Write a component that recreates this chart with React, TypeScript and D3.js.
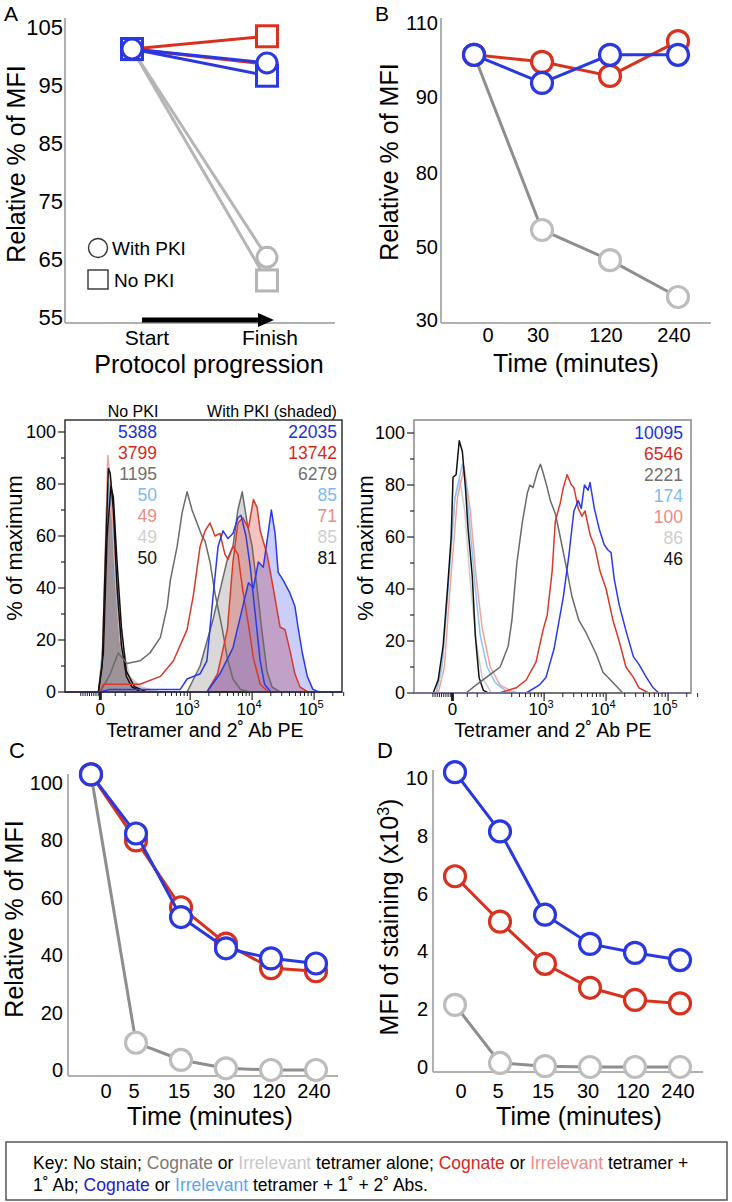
import React from 'react';
import * as d3 from 'd3';

const FONT = "'Liberation Sans', Arial, Helvetica, sans-serif";
const RED = '#d8321f';
const BLUE = '#2a38e2';
const A_GRAY = '#b5b5b5';
const GRAY_LINE = '#8e8e8e';
const GRAY_MARK = '#bdbdbd';
const AXIS = '#b0b0b0';

// ---------- Panel A ----------
const aStages = ['Start', 'Finish'];
const aRedWithPKI = [101.2, 98.6];
const aRedNoPKI = [101.2, 103.4];
const aBlueWithPKI = [101.2, 98.8];
const aBlueNoPKI = [101.2, 96.6];
const aGrayWithPKI = [101.2, 65.3];
const aGrayNoPKI = [101.2, 61.3];
const aTicks = [105, 95, 85, 75, 65, 55];

// ---------- Panel B ----------
const bTimes = ['0', '30', '120', '240'];
const bRed = [101.4, 99.5, 95.7, 105.1];
const bBlue = [101.4, 93.8, 101.4, 101.4];
const bGray = [101.4, 56.9, 46.4, 36.3];
const bTicks = [110, 90, 80, 50, 30];

// ---------- Panels C & D ----------
const cdTimes = ['0', '5', '15', '30', '120', '240'];
const cRed = [103, 80, 56.7, 44, 35.5, 34.4];
const cBlue = [103, 82.4, 53.3, 42.4, 38.9, 37.1];
const cGray = [103, 9.5, 3.5, 0.6, 0, 0];
const cTicks = [0, 20, 40, 60, 80, 100];
const dRed = [6.6, 5.03, 3.57, 2.74, 2.32, 2.2];
const dBlue = [10.2, 8.15, 5.27, 4.26, 3.95, 3.7];
const dGray = [2.15, 0.14, 0.03, 0, 0, 0];
const dTicks = [0, 2, 4, 6, 8, 10];

// ---------- Histograms (x in display decades, y in % of max) ----------
const hlBlackNo = [[1.52,0],[1.58,10],[1.63,50],[1.68,86],[1.71,84],[1.76,70],[1.82,40],[1.89,18],[1.97,6],[2.06,2],[2.2,0]];
const hlPinkNo = [[1.52,0],[1.58,12],[1.63,55],[1.67,91],[1.72,80],[1.79,50],[1.87,20],[1.97,6],[2.11,1],[2.27,0]];
const hlLightBlueNo = [[1.52,0],[1.6,20],[1.65,70],[1.68,80],[1.73,75],[1.79,45],[1.87,20],[1.98,6],[2.11,2],[2.35,0]];
const hlLightGrayNo = [[1.52,0],[1.6,15],[1.65,60],[1.69,78],[1.74,72],[1.8,42],[1.88,18],[2.0,6],[2.2,2],[2.4,0]];
const hlGrayNo = [[1.55,0],[1.71,7],[1.84,15],[1.98,11],[2.19,12],[2.35,15],[2.52,21],[2.63,33],[2.68,43],[2.79,56],[2.87,69],[2.95,77],[3.03,70],[3.11,65],[3.19,60],[3.24,58],[3.32,50],[3.4,38],[3.52,24],[3.6,13],[3.69,5],[3.81,1],[3.97,0]];
const hlRedNo = [[1.55,0],[1.6,3],[1.8,3],[2.19,3],[2.52,6],[2.73,12],[2.95,24],[3.05,37],[3.16,56],[3.24,62],[3.32,65],[3.4,60],[3.48,61],[3.56,53],[3.61,51],[3.69,56],[3.77,53],[3.85,39],[3.94,26],[4.02,13],[4.13,3],[4.26,0]];
const hlBlueNo = [[1.55,0],[1.7,1],[2.84,1],[2.95,5],[3.16,7],[3.27,12],[3.37,37],[3.45,56],[3.53,62],[3.61,59],[3.69,61],[3.77,67],[3.82,68],[3.9,60],[3.97,48],[4.05,30],[4.13,12],[4.2,3],[4.3,0]];
const hlGrayPKI = [[2.95,0],[3.16,10],[3.37,28],[3.48,39],[3.6,51],[3.69,56],[3.77,70],[3.84,77],[3.92,65],[4.0,56],[4.08,40],[4.16,23],[4.24,8],[4.32,2],[4.45,0]];
const hlRedPKI = [[3.27,0],[3.44,7],[3.6,24],[3.69,50],[3.77,65],[3.85,67],[3.94,63],[4.02,74],[4.08,71],[4.13,62],[4.24,53],[4.34,40],[4.45,25],[4.53,24],[4.61,16],[4.69,7],[4.77,2],[4.9,0]];
const hlBluePKI = [[3.27,0],[3.48,7],[3.69,17],[3.85,33],[3.94,42],[4.02,40],[4.1,50],[4.18,48],[4.24,58],[4.31,70],[4.37,61],[4.42,46],[4.5,43],[4.61,38],[4.69,33],[4.74,25],[4.81,15],[4.89,6],[4.98,1],[5.08,0]];
const hlBlackPKI = [[1.52,0],[1.6,15],[1.66,60],[1.72,79],[1.76,75],[1.82,50],[1.89,25],[1.97,8],[2.1,2],[2.3,0]];
const hlLightBluePKI = [[1.52,0],[1.6,18],[1.66,65],[1.7,80],[1.75,70],[1.82,40],[1.9,15],[2.0,5],[2.2,1],[2.4,0]];
const hlPinkPKI = [[1.52,0],[1.6,15],[1.66,60],[1.7,72],[1.76,65],[1.83,38],[1.9,15],[2.0,5],[2.2,1],[2.4,0]];
const hlLightGrayPKI = [[1.52,0],[1.6,18],[1.66,65],[1.71,82],[1.76,74],[1.83,42],[1.91,18],[2.02,6],[2.2,2],[2.5,0]];

const hrBlack = [[1.21,0],[1.29,5],[1.37,18],[1.45,43],[1.5,60],[1.53,83],[1.58,84],[1.63,97],[1.68,93],[1.73,79],[1.77,64],[1.84,45],[1.89,22],[1.95,6],[2.02,1],[2.1,0]];
const hrLightBlue = [[1.26,0],[1.35,10],[1.45,40],[1.56,75],[1.68,88],[1.74,80],[1.81,62],[1.89,40],[1.97,22],[2.08,10],[2.21,4],[2.37,1],[2.61,0]];
const hrPink = [[1.29,0],[1.39,10],[1.48,40],[1.6,75],[1.71,87],[1.81,70],[1.9,45],[2.0,25],[2.13,10],[2.29,3],[2.53,0]];
const hrLightGray = [[1.26,0],[1.36,12],[1.46,45],[1.56,75],[1.64,82],[1.72,70],[1.8,45],[1.9,20],[2.0,6],[2.15,0]];
const hrGray = [[1.74,0],[1.9,3],[2.18,8],[2.29,10],[2.42,18],[2.48,28],[2.56,50],[2.65,66],[2.73,77],[2.77,80],[2.82,79],[2.89,85],[2.94,88],[2.98,85],[3.05,79],[3.1,74],[3.18,69],[3.26,60],[3.37,47],[3.45,37],[3.56,28],[3.68,23],[3.84,15],[3.95,8],[4.11,4],[4.27,0]];
const hrRed = [[2.27,0],[2.55,2],[2.71,5],[2.87,12],[2.98,24],[3.05,30],[3.13,47],[3.18,66],[3.26,73],[3.31,79],[3.37,84],[3.44,80],[3.48,79],[3.55,71],[3.61,68],[3.66,70],[3.74,61],[3.82,56],[3.9,47],[4.0,40],[4.11,28],[4.21,20],[4.32,10],[4.44,6],[4.53,2],[4.69,0]];
const hrBlue = [[2.71,0],[2.92,3],[3.03,6],[3.16,17],[3.31,37],[3.4,53],[3.48,70],[3.55,74],[3.6,71],[3.65,80],[3.71,78],[3.74,81],[3.81,71],[3.89,63],[3.97,57],[4.03,55],[4.08,54],[4.13,44],[4.21,34],[4.32,24],[4.44,14],[4.53,11],[4.65,6],[4.76,2],[4.85,0]];

const hlNoPKIMFI = ['5388', '3799', '1195', '50', '49', '49', '50'];
const hlPKIMFI = ['22035', '13742', '6279', '85', '71', '85', '81'];
const hrMFI = ['10095', '6546', '2221', '174', '100', '86', '46'];
const mfiColors = ['#2230dc', '#d4291c', '#707070', '#7fbaf2', '#ec8b86', '#cfcfcf', '#111111'];

const H_BLUE = '#2b3ae8';
const H_RED = '#d9392a';
const H_GRAY = '#6a6a6a';
const H_LBLUE = '#8ec5f5';
const H_PINK = '#f2a39c';
const H_LGRAY = '#cccccc';
const H_BLACK = '#111111';

type Pt = number[];

function Marker({ x, y, shape, color, size, sw }: any) {
  if (shape === 'square')
    return <rect x={x - size / 2} y={y - size / 2} width={size} height={size} fill="#fff" stroke={color} strokeWidth={sw} />;
  return <circle cx={x} cy={y} r={size / 2} fill="#fff" stroke={color} strokeWidth={sw} />;
}

function PanelA() {
  const y = d3.scaleLinear().domain([55, 105]).range([317, 27]);
  const x = d3.scalePoint<string>().domain(aStages).range([132, 267]);
  const xl = d3.scalePoint<string>().domain(aStages).range([147, 270]);
  const line = d3.line<number>().x((_, i) => x(aStages[i])!).y((d) => y(d));
  const series = [
    { v: aGrayNoPKI, c: A_GRAY, s: 'square' },
    { v: aGrayWithPKI, c: A_GRAY, s: 'circle' },
    { v: aRedNoPKI, c: RED, s: 'square' },
    { v: aRedWithPKI, c: RED, s: 'circle' },
    { v: aBlueNoPKI, c: BLUE, s: 'square' },
    { v: aBlueWithPKI, c: BLUE, s: 'circle' },
  ];
  const ax0 = xl('Start')! - 5;
  const ax1 = xl('Finish')! + 4;
  return (
    <g>
      <text x={4} y={21} fontSize={21}>A</text>
      <line x1={65} x2={65} y1={18} y2={323} stroke={AXIS} strokeWidth={2} />
      <line x1={65} x2={335} y1={323} y2={323} stroke={AXIS} strokeWidth={2} />
      {aTicks.map((t) => (
        <text key={t} x={63} y={y(t) + 8} fontSize={22} textAnchor="end">{t}</text>
      ))}
      <text transform={`translate(25,164) rotate(-90)`} fontSize={25} textAnchor="middle">Relative % of MFI</text>
      {series.map((s, i) => (
        <path key={'l' + i} d={line(s.v)!} fill="none" stroke={s.c} strokeWidth={3} />
      ))}
      {series.map((s, i) =>
        s.v.map((v, j) => (
          <Marker key={'m' + i + j} x={x(aStages[j])!} y={y(v)} shape={s.s} color={s.c} size={s.s === 'square' ? 21 : 20} sw={3} />
        ))
      )}
      <circle cx={98} cy={248} r={9.5} fill="#fff" stroke="#333" strokeWidth={1.4} />
      <text x={112} y={255} fontSize={19}>With PKI</text>
      <rect x={88} y={270} width={20} height={19} fill="#fff" stroke="#333" strokeWidth={1.4} />
      <text x={114} y={287} fontSize={19}>No PKI</text>
      <line x1={ax0} x2={ax1 - 14} y1={320} y2={320} stroke="#000" strokeWidth={5} />
      <path d={`M${ax1 - 16},313 L${ax1},320 L${ax1 - 16},327 Z`} fill="#000" />
      {aStages.map((s) => (
        <text key={s} x={xl(s)} y={345} fontSize={21} textAnchor="middle">{s}</text>
      ))}
      <text x={209} y={373} fontSize={25} textAnchor="middle">Protocol progression</text>
    </g>
  );
}

function PanelB() {
  const y = d3.scaleLinear().domain([30, 50, 80, 90, 110]).range([320, 247, 173, 97, 23]);
  const x = d3.scalePoint<string>().domain(bTimes).range([474, 678]);
  const line = d3.line<number>().x((_, i) => x(bTimes[i])!).y((d) => y(d));
  const series = [
    { v: bGray, c: GRAY_LINE, m: GRAY_MARK },
    { v: bRed, c: RED, m: RED },
    { v: bBlue, c: BLUE, m: BLUE },
  ];
  return (
    <g>
      <text x={375} y={21} fontSize={21}>B</text>
      <line x1={441} x2={441} y1={18} y2={323} stroke={AXIS} strokeWidth={2} />
      <line x1={441} x2={711} y1={323} y2={323} stroke={AXIS} strokeWidth={2} />
      {bTicks.map((t) => (
        <text key={t} x={438} y={y(t) + 7} fontSize={20} textAnchor="end">{t}</text>
      ))}
      <text transform={`translate(398,162) rotate(-90)`} fontSize={25} textAnchor="middle">Relative % of MFI</text>
      {series.map((s, i) => (
        <g key={i}>
          <path d={line(s.v)!} fill="none" stroke={s.c} strokeWidth={3} />
          {s.v.map((v, j) => (
            <Marker key={j} x={x(bTimes[j])!} y={y(v)} shape="circle" color={s.m} size={21} sw={3.2} />
          ))}
        </g>
      ))}
      {bTimes.map((t, i) => (
        <text key={t} x={x(t)! + (i === 0 ? 14 : -4)} y={342} fontSize={20} textAnchor="middle">{t}</text>
      ))}
      <text x={576} y={372} fontSize={25} textAnchor="middle">Time (minutes)</text>
    </g>
  );
}

function TimePanel({ letter, lx, axisX, axisY, axisTop, xr, yDom, yRange, ticks, red, blue, gray, title, titleX, labelShift0, tickRight }: any) {
  const y = d3.scaleLinear().domain(yDom).range(yRange);
  const x = d3.scalePoint<string>().domain(cdTimes).range(xr);
  const line = d3.line<number>().x((_, i) => x(cdTimes[i])!).y((d) => y(d));
  const series = [
    { v: gray, c: GRAY_LINE, m: GRAY_MARK },
    { v: red, c: RED, m: RED },
    { v: blue, c: BLUE, m: BLUE },
  ];
  return (
    <g>
      <text x={lx} y={758} fontSize={22}>{letter}</text>
      <line x1={axisX} x2={axisX} y1={axisTop} y2={axisY} stroke={AXIS} strokeWidth={2} />
      <line x1={axisX} x2={axisX + 270} y1={axisY} y2={axisY} stroke={AXIS} strokeWidth={2} />
      {ticks.map((t: number) => (
        <text key={t} x={tickRight} y={y(t) + 7} fontSize={20} textAnchor="end">{t}</text>
      ))}
      {title}
      {series.map((s, i) => (
        <g key={i}>
          <path d={line(s.v)!} fill="none" stroke={s.c} strokeWidth={3} />
          {s.v.map((v: number, j: number) => (
            <Marker key={j} x={x(cdTimes[j])!} y={y(v)} shape="circle" color={s.m} size={21} sw={3.2} />
          ))}
        </g>
      ))}
      {cdTimes.map((t, i) => (
        <text key={t} x={x(t)! + (i === 0 ? labelShift0 : -2)} y={1098} fontSize={20} textAnchor="middle">{t}</text>
      ))}
      <text x={titleX} y={1125} fontSize={25} textAnchor="middle">Time (minutes)</text>
    </g>
  );
}

function Histogram({ xr, dom, zeroD, yb, yt, boxTop, boxStroke, fills, lines, yTitleX, xTitleX, children }: any) {
  const x = d3.scaleLinear().domain(dom).range(xr);
  const y = d3.scaleLinear().domain([0, 100]).range([yb, yt]);
  const ext = (d: Pt[]) => [[dom[0], 0], ...d, [dom[1], 0]] as Pt[];
  const line = d3.line<Pt>().x((d) => x(d[0])).y((d) => y(d[1]));
  const area = d3.area<Pt>().x((d) => x(d[0])).y0(yb).y1((d) => y(d[1]));
  const yt10 = d3.range(0, 101, 10);
  const minor: number[] = [];
  for (let k = 1; k <= 9; k++) minor.push(zeroD - 0.035 * k);
  minor.push(zeroD + 0.24, zeroD + 0.4);
  for (let k = 3; k <= 9; k++) minor.push(2 + Math.log10(k));
  for (let k = 2; k <= 9; k++) minor.push(3 + Math.log10(k), 4 + Math.log10(k));
  minor.push(5 + Math.log10(2), 5 + Math.log10(3));
  const major = [{ d: zeroD, e: null }, { d: 3, e: '3' }, { d: 4, e: '4' }, { d: 5, e: '5' }];
  return (
    <g>
      <defs>
        <clipPath id={'clip' + xr[0]}>
          <rect x={xr[0]} y={boxTop} width={xr[1] - xr[0]} height={yb - boxTop + 1} />
        </clipPath>
      </defs>
      <g clipPath={`url(#clip${xr[0]})`}>
        {fills.map((f: any, i: number) => (
          <path key={'f' + i} d={area(ext(f.d))!} fill={f.c} fillOpacity={f.o} stroke="none" />
        ))}
        {lines.map((f: any, i: number) => (
          <path key={'l' + i} d={line(ext(f.d))!} fill="none" stroke={f.c} strokeWidth={1.5} strokeLinejoin="round" />
        ))}
      </g>
      <rect x={xr[0]} y={boxTop} width={xr[1] - xr[0]} height={yb - boxTop} fill="none" stroke={boxStroke} strokeWidth={1.5} />
      {yt10.map((v) => (
        <line key={v} x1={xr[0] - (v % 20 === 0 ? 7 : 4)} x2={xr[0]} y1={y(v)} y2={y(v)} stroke="#222" strokeWidth={1.2} />
      ))}
      {yt10.filter((v) => v % 20 === 0).map((v) => (
        <text key={v} x={xr[0] - 9} y={y(v) + 6} fontSize={18} textAnchor="end">{v}</text>
      ))}
      {minor.map((d, i) => (
        <line key={i} x1={x(d)} x2={x(d)} y1={yb} y2={yb + 4} stroke="#222" strokeWidth={1} />
      ))}
      {major.map((m) => (
        <line key={m.d} x1={x(m.d)} x2={x(m.d)} y1={yb} y2={yb + 8} stroke="#222" strokeWidth={m.e ? 1.2 : 3} />
      ))}
      {major.map((m) => (
        <text key={'t' + m.d} x={x(m.d) + (m.e ? -3 : 0)} y={715} fontSize={17} textAnchor="middle">
          {m.e ? (<>10<tspan dy={-7} fontSize={11}>{m.e}</tspan></>) : '0'}
        </text>
      ))}
      <text transform={`translate(${yTitleX},548) rotate(-90)`} fontSize={22} textAnchor="middle">% of maximum</text>
      <text x={xTitleX} y={737} fontSize={19.5} textAnchor="middle">Tetramer and 2˚ Ab PE</text>
      {children}
    </g>
  );
}

function MfiColumn({ xRight, y0, values }: any) {
  return (
    <g>
      {values.map((v: string, i: number) => (
        <text key={i} x={xRight} y={y0 + i * 21} fontSize={17.5} textAnchor="end" fill={mfiColors[i]}>{v}</text>
      ))}
    </g>
  );
}

function Key() {
  return (
    <g fontSize={17.5}>
      <rect x={6} y={1142} width={721} height={58} fill="#fff" stroke="#555" strokeWidth={1.5} />
      <text x={33} y={1169}>
        <tspan>Key: No stain; </tspan>
        <tspan fill="#7a7a7a">Cognate</tspan>
        <tspan> or </tspan>
        <tspan fill="#c8c8c8">Irrelevant</tspan>
        <tspan> tetramer alone; </tspan>
        <tspan fill="#d4291c">Cognate</tspan>
        <tspan> or </tspan>
        <tspan fill="#ef8c86">Irrelevant</tspan>
        <tspan> tetramer +</tspan>
      </text>
      <text x={33} y={1191}>
        <tspan>1˚ Ab; </tspan>
        <tspan fill="#2020d0">Cognate</tspan>
        <tspan> or </tspan>
        <tspan fill="#5aa6f2">Irrelevant</tspan>
        <tspan> tetramer + 1˚ + 2˚ Abs.</tspan>
      </text>
    </g>
  );
}

export default function App() {
  const leftFills = [
    { d: hlGrayPKI, c: '#9a9a9a', o: 0.38 },
    { d: hlRedPKI, c: H_RED, o: 0.3 },
    { d: hlBluePKI, c: H_BLUE, o: 0.25 },
    { d: hlLightGrayPKI, c: '#aaaaaa', o: 0.35 },
    { d: hlLightBluePKI, c: H_LBLUE, o: 0.3 },
    { d: hlPinkPKI, c: H_PINK, o: 0.3 },
    { d: hlBlackPKI, c: '#333333', o: 0.35 },
  ];
  const leftLines = [
    { d: hlLightGrayNo, c: H_LGRAY },
    { d: hlLightGrayPKI, c: H_LGRAY },
    { d: hlLightBlueNo, c: H_LBLUE },
    { d: hlLightBluePKI, c: H_LBLUE },
    { d: hlPinkNo, c: H_PINK },
    { d: hlPinkPKI, c: H_PINK },
    { d: hlBlackPKI, c: H_BLACK },
    { d: hlBlackNo, c: H_BLACK },
    { d: hlGrayNo, c: H_GRAY },
    { d: hlGrayPKI, c: H_GRAY },
    { d: hlRedNo, c: H_RED },
    { d: hlRedPKI, c: H_RED },
    { d: hlBlueNo, c: H_BLUE },
    { d: hlBluePKI, c: H_BLUE },
  ];
  const rightLines = [
    { d: hrLightGray, c: H_LGRAY },
    { d: hrPink, c: H_PINK },
    { d: hrLightBlue, c: H_LBLUE },
    { d: hrBlack, c: H_BLACK },
    { d: hrGray, c: H_GRAY },
    { d: hrRed, c: H_RED },
    { d: hrBlue, c: H_BLUE },
  ];
  return (
    <svg width={732} height={1202} style={{ position: 'absolute', left: 0, top: 0, display: 'block' }} fontFamily={FONT}>
      <rect width={732} height={1202} fill="#fff" />
      <PanelA />
      <PanelB />
      <Histogram xr={[65, 342]} dom={[0.98, 5.45]} zeroD={1.55} yb={692} yt={432} boxTop={420} boxStroke="#333"
        fills={leftFills} lines={leftLines} yTitleX={22} xTitleX={205}>
        <text x={133} y={417} fontSize={16} textAnchor="middle">No PKI</text>
        <text x={272} y={417} fontSize={16} textAnchor="middle">With PKI (shaded)</text>
        <MfiColumn xRight={157} y0={438} values={hlNoPKIMFI} />
        <MfiColumn xRight={337} y0={438} values={hlPKIMFI} />
      </Histogram>
      <Histogram xr={[414, 691]} dom={[0.9, 5.37]} zeroD={1.52} yb={693} yt={433} boxTop={420} boxStroke="#888"
        fills={[]} lines={rightLines} yTitleX={373} xTitleX={553}>
        <MfiColumn xRight={683} y0={439} values={hrMFI} />
      </Histogram>
      <TimePanel letter="C" lx={9} axisX={68} axisY={1076} axisTop={774} xr={[91, 316]} yDom={[0, 100]} yRange={[1070, 783]}
        ticks={cTicks} red={cRed} blue={cBlue} gray={cGray} titleX={210} labelShift0={15} tickRight={63}
        title={<text transform="translate(23,919) rotate(-90)" fontSize={25} textAnchor="middle">Relative % of MFI</text>} />
      <TimePanel letter="D" lx={377} axisX={433} axisY={1072} axisTop={770} xr={[455, 680]} yDom={[0, 10]} yRange={[1067, 778]}
        ticks={dTicks} red={dRed} blue={dBlue} gray={dGray} titleX={579} labelShift0={6} tickRight={428}
        title={<text transform="translate(398,917) rotate(-90)" fontSize={25} textAnchor="middle">MFI of staining (x10<tspan dy={-9} fontSize={16}>3</tspan><tspan dy={9}>)</tspan></text>} />
      <Key />
    </svg>
  );
}
